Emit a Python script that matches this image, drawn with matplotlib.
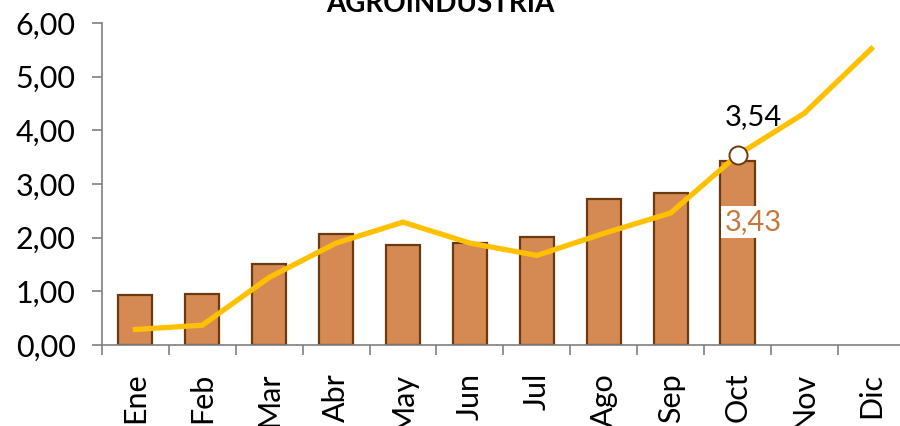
import matplotlib
matplotlib.use("Agg")
import matplotlib.pyplot as plt
import numpy as np

months = ["Ene", "Feb", "Mar", "Abr", "May", "Jun", "Jul", "Ago", "Sep", "Oct", "Nov", "Dic"]
bar_values = [0.94, 0.96, 1.51, 2.07, 1.86, 1.90, 2.01, 2.72, 2.83, 3.43]
line_values = [0.29, 0.37, 1.26, 1.90, 2.29, 1.90, 1.67, 2.08, 2.46, 3.54, 4.32, 5.52]
title = "AGROINDUSTRIA"
yticks = [0, 1, 2, 3, 4, 5, 6]

plt.rcParams['font.family'] = ['Lato', 'DejaVu Sans']

fig = plt.figure(figsize=(9, 4.26), dpi=100)
ax = fig.add_axes([0.1133, 0.190, 0.892, 0.756])

x = np.arange(len(months))
ax.bar(x[:len(bar_values)], bar_values, width=0.51, color="#D48A52",
       edgecolor="#6B3A10", linewidth=1.6, zorder=2)
ax.plot(x, line_values, color="#FFC000", linewidth=3.8, zorder=3,
        solid_joinstyle="miter")
ax.plot([x[9]], [line_values[9]], marker="o", markersize=13,
        markerfacecolor="white", markeredgecolor="#6B3A10",
        markeredgewidth=1.4, zorder=4, linestyle="none")

fmt = lambda v: f"{v:.2f}".replace(".", ",")
ax.text(9.23, 4.24, fmt(line_values[9]), ha="center", va="center",
        fontsize=21, color="black", zorder=5)
ax.text(9.23, 2.30, fmt(bar_values[9]), ha="center", va="center",
        fontsize=21, color="#C8773A", zorder=5,
        bbox=dict(facecolor="white", edgecolor="none", pad=2))

ax.set_xlim(-0.5, 11.5)
ax.set_ylim(0, 6)
ax.set_yticks(yticks)
ax.set_yticklabels([fmt(v) for v in yticks], fontsize=22)
ax.set_xticks(x)
ax.set_xticklabels(months, rotation=90, fontsize=22)
ax.set_xticks(np.arange(-0.5, 12, 1), minor=True)
ax.tick_params(axis="x", which="major", length=0, pad=20)
ax.tick_params(axis="x", which="minor", length=7, width=1.2, color="#7f7f7f", direction="out")
ax.tick_params(axis="y", which="major", length=7, width=1.2, color="#7f7f7f", pad=12)

for s in ["top", "right"]:
    ax.spines[s].set_visible(False)
for s in ["left", "bottom"]:
    ax.spines[s].set_color("#7f7f7f")
    ax.spines[s].set_linewidth(1.2)

fig.text(0.489, 0.972, title, ha="center", va="baseline", fontsize=20,
         fontweight="bold")

fig.savefig("out.png", dpi=100)
